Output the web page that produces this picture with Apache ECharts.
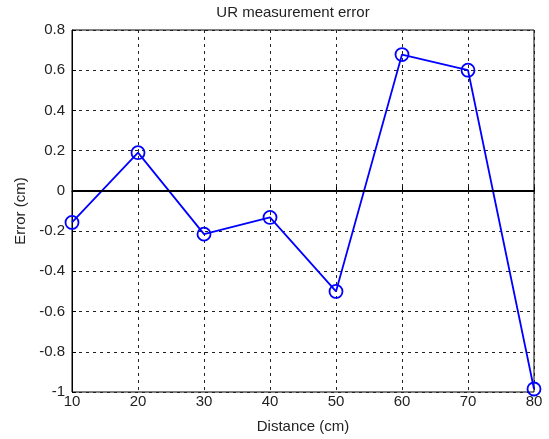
<!DOCTYPE html>
<html>
<head>
<meta charset="utf-8">
<script src="https://cdn.jsdelivr.net/npm/echarts@6/dist/echarts.min.js"></script>
<style>
  html, body { margin: 0; padding: 0; background: #fff; }
  #chart { width: 549px; height: 439px; }
</style>
</head>
<body>
<div id="chart"></div>
<script>
// distance (cm) and measured error (cm)
var distance = [10, 20, 30, 40, 50, 60, 70, 80]
var errorCm = [-0.157, 0.19, -0.215, -0.132, -0.5, 0.678, 0.6, -0.985]

var font = 'Liberation Sans, Arial, sans-serif'

var chart = echarts.init(document.getElementById('chart'))

var option = {
  animation: false,
  backgroundColor: '#fff',
  title: {
    text: 'UR measurement error',
    left: 288,
    textAlign: 'center',
    top: 0,
    textStyle: { fontFamily: font, fontSize: 15, fontWeight: 'normal', color: '#222' }
  },
  grid: {
    left: 72,
    right: 15,
    top: 30,
    bottom: 46,
    show: true,
    borderColor: '#000',
    borderWidth: 1
  },
  xAxis: {
    type: 'value',
    min: 10,
    max: 80,
    interval: 10,
    name: 'Distance (cm)',
    nameLocation: 'middle',
    nameGap: 27,
    nameTextStyle: { fontFamily: font, fontSize: 15, color: '#222' },
    axisLine: { lineStyle: { color: '#000' } },
    axisTick: { inside: true, length: 4, lineStyle: { color: '#000' } },
    axisLabel: { fontFamily: font, fontSize: 15, color: '#222', margin: 2 },
    splitLine: { show: true, lineStyle: { color: '#222', type: [3, 4], width: 1 } }
  },
  yAxis: {
    type: 'value',
    min: -1,
    max: 0.8,
    interval: 0.2,
    name: 'Error (cm)',
    nameLocation: 'middle',
    nameGap: 42,
    nameTextStyle: { fontFamily: font, fontSize: 15, color: '#222' },
    axisLine: { show: true, lineStyle: { color: '#000' } },
    axisTick: { inside: true, length: 4, lineStyle: { color: '#000' } },
    axisLabel: {
      fontFamily: font, fontSize: 15, color: '#222', margin: 7,
      formatter: function (v) { return String(+v.toFixed(1)) }
    },
    splitLine: { show: true, lineStyle: { color: '#222', type: [3, 4], width: 1 } }
  },
  series: [
    {
      type: 'line',
      data: distance.map(function (d, i) { return [d, errorCm[i]] }),
      symbol: 'circle',
      symbolSize: 13,
      lineStyle: { color: '#0000ff', width: 1.8 },
      itemStyle: { color: 'rgba(0,0,0,0)', borderColor: '#0000ff', borderWidth: 1.8 },
      markLine: {
        silent: true,
        symbol: 'none',
        label: { show: false },
        lineStyle: { color: '#000', type: 'solid', width: 2 },
        data: [{ yAxis: 0 }]
      },
      z: 3
    }
  ]
}

chart.setOption(option)
</script>
</body>
</html>
